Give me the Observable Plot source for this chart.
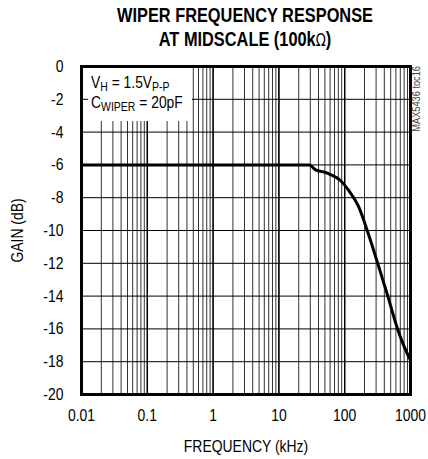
<!DOCTYPE html>
<html>
<head>
<meta charset="utf-8">
<script src="https://cdn.jsdelivr.net/npm/d3@7"></script>
<script src="https://cdn.jsdelivr.net/npm/@observablehq/plot@0.6"></script>
<style>
  html, body { margin: 0; padding: 0; background: #fff; }
  #chart svg { display: block; }
</style>
</head>
<body>
<div id="chart"></div>
<script>
// ---- data ----
const titleLines = ["WIPER FREQUENCY RESPONSE", "AT MIDSCALE (100k", "Ω", ")"];
const xLabel = "FREQUENCY (kHz)";
const yLabel = "GAIN (dB)";
const xTicks = [0.01, 0.1, 1, 10, 100, 1000];
const xTickLabels = ["0.01", "0.1", "1", "10", "100", "1000"];
const yTicks = [-20, -18, -16, -14, -12, -10, -8, -6, -4, -2, 0];
const yTickLabels = ["-20", "-18", "-16", "-14", "-12", "-10", "-8", "-6", "-4", "-2", "0"];
const decades = [0.01, 0.1, 1, 10, 100];
const multiples = [1, 2, 3, 4, 5, 6, 7, 8, 9];
const freqKHz = [0.01, 29, 36, 50, 61, 86, 115, 164, 220, 319, 452, 641, 942, 1000];
const gainDB = [-6, -6, -6.3, -6.45, -6.59, -6.95, -7.56, -8.58, -10, -12.03, -14, -16.04, -17.7, -17.9];
const tocLabel = "MAX5436 toc16";

const curve = freqKHz.map((f, i) => ({f, g: gainDB[i]}));
const gridX = decades.flatMap(d => multiples.map(m => d * m)).concat([1000]);
const xLab = d => {
  const i = xTicks.findIndex(t => Math.abs(Math.log10(t) - Math.log10(d)) < 1e-6);
  return i >= 0 ? xTickLabels[i] : "";
};
const yLab = d => {
  const i = yTicks.indexOf(d);
  return i >= 0 ? yTickLabels[i] : "";
};

const FONT = "'Liberation Sans', Arial, sans-serif";
const NARROW = 0.82;
const W = 428, H = 459;
const mL = 81, mR = 18, mT = 66, mB = 65;

const chart = Plot.plot({
  width: W,
  height: H,
  marginLeft: mL,
  marginRight: mR,
  marginTop: mT,
  marginBottom: mB,
  style: {fontFamily: FONT, fontSize: "17px", color: "#000", background: "#fff"},
  x: {type: "log", domain: [0.01, 1000]},
  y: {domain: [-20, 0]},
  marks: [
    Plot.ruleX(gridX, {stroke: "#333", strokeWidth: 1}),
    Plot.ruleX(xTicks, {stroke: "#000", strokeWidth: 1.4}),
    Plot.ruleY(yTicks, {stroke: "#000", strokeWidth: 1}),
    Plot.line(curve, {x: "f", y: "g", stroke: "#000", strokeWidth: 3, curve: "monotone-x"}),
    Plot.frame({stroke: "#000", strokeWidth: 3}),
    Plot.axisX({
      ticks: xTicks,
      tickSize: 0, tickPadding: 14, fontSize: 17,
      tickFormat: xLab,
      label: xLabel, labelAnchor: "center", labelArrow: "none", labelOffset: 57
    }),
    Plot.axisY({
      ticks: yTicks,
      tickSize: 0, tickPadding: 18, fontSize: 17,
      tickFormat: yLab,
      label: yLabel, labelAnchor: "center", labelArrow: "none", labelOffset: 71
    })
  ]
});

document.getElementById("chart").appendChild(chart);

const svg = d3.select(chart);
// condensed look: scale axis texts horizontally around their own anchor
svg.selectAll("g[aria-label^='x-axis'] text, g[aria-label^='y-axis'] text").each(function() {
  const t = d3.select(this);
  const tr = t.attr("transform") || "";
  t.attr("transform", tr + ` scale(${NARROW},1)`);
});
svg.selectAll("g[aria-label='x-axis label'] text, g[aria-label='y-axis label'] text")
  .attr("font-size", 17);

// title
const tg = svg.append("g").attr("font-family", FONT).attr("font-weight", "bold")
  .attr("font-size", 21).attr("text-anchor", "middle").attr("fill", "#000");
const cx = 245;
const t1 = tg.append("text").attr("transform", `translate(${cx},22) scale(0.8,1)`).text(titleLines[0]);
const t2 = tg.append("text").attr("transform", `translate(${cx},45.5) scale(0.8,1)`);
t2.append("tspan").text(titleLines[1]);
t2.append("tspan").attr("font-family", "'DejaVu Sans', sans-serif").attr("font-weight", "normal")
  .attr("font-size", 17).text(titleLines[2]);
t2.append("tspan").text(titleLines[3]);
const len1 = t1.node().getComputedTextLength();
const s = 256 / len1;
t1.attr("transform", `translate(${cx},22) scale(${s},1)`);
t2.attr("transform", `translate(${cx},45.5) scale(${s},1)`);

// conditions box
const bx = mL + 7, by = mT + 2;
const box = svg.append("g").attr("font-family", FONT).attr("font-size", 16.5)
  .attr("fill", "#000").attr("text-anchor", "start");
box.append("rect").attr("x", bx).attr("y", by).attr("width", 104).attr("height", 53).attr("fill", "#fff");
const l1 = box.append("text").attr("transform", `translate(${bx + 3},${by + 20}) scale(${NARROW + 0.02},1)`);
l1.append("tspan").text("V");
l1.append("tspan").attr("font-size", 12.5).attr("dy", 2.5).text("H");
l1.append("tspan").attr("dy", -2.5).text(" = 1.5V");
l1.append("tspan").attr("font-size", 12.5).attr("dy", 2.5).text("P-P");
const l2 = box.append("text").attr("transform", `translate(${bx + 3},${by + 40}) scale(${NARROW + 0.02},1)`);
l2.append("tspan").text("C");
l2.append("tspan").attr("font-size", 12.5).attr("dy", 2.5).text("WIPER");
l2.append("tspan").attr("dy", -2.5).text(" = 20pF");

// toc label on the right
svg.append("text").attr("font-family", FONT).attr("font-size", 10.5).attr("fill", "#444")
  .attr("text-anchor", "end")
  .attr("transform", `translate(${W - mR + 10},${mT}) rotate(-90) scale(0.88,1)`)
  .text(tocLabel);
</script>
</body>
</html>
